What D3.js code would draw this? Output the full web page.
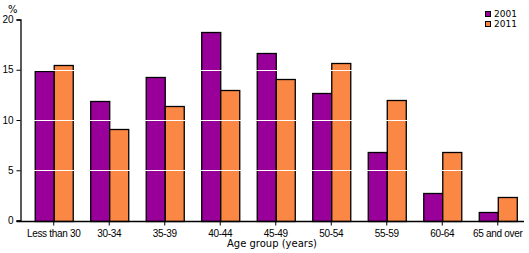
<!DOCTYPE html>
<html>
<head>
<meta charset="utf-8">
<script src="https://cdn.jsdelivr.net/npm/d3@7"></script>
<style>
  body { margin: 0; background: #fff; }
  svg { display: block; font-family: "DejaVu Sans", Verdana, sans-serif; }
  .tick text { font-size: 10px; fill: #000; }
</style>
</head>
<body>
<svg id="chart" width="529" height="253"></svg>
<script>
"use strict";

// Age groups and share of each (per cent)
const categories = ["Less than 30", "30-34", "35-39", "40-44", "45-49", "50-54", "55-59", "60-64", "65 and over"];
const series = ["2001", "2011"];
const values2001 = [14.9, 11.9, 14.25, 18.8, 16.7, 12.65, 6.8, 2.75, 0.85];
const values2011 = [15.5, 9.1, 11.4, 13.0, 14.05, 15.65, 12.0, 6.8, 2.3];
const yTicks = [0, 5, 10, 15, 20];
const colours = ["#990099", "#fa8744"];

const svg = d3.select("#chart");

const y = d3.scaleLinear().domain([0, 20]).range([220.5, 19.5]);
const x = d3.scaleBand().domain(categories).range([26, 525.5]).paddingInner(0.315).paddingOuter(0.157);
const xs = d3.scaleBand().domain(series).range([0, x.bandwidth()]);

// bars
const rows = categories.map((c, i) => ({cat: c, vals: [values2001[i], values2011[i]]}));
const groups = svg.append("g").selectAll("g")
    .data(rows)
    .enter().append("g")
    .attr("transform", d => "translate(" + x(d.cat) + ",0)");

groups.selectAll("rect")
    .data(d => d.vals.map((v, k) => ({s: series[k], v: v, k: k})))
    .enter().append("rect")
    .attr("x", d => xs(d.s) + 0.5)
    .attr("y", d => Math.round(y(d.v)) + 0.5)
    .attr("width", xs.bandwidth())
    .attr("height", d => Math.round(y(0)) - Math.round(y(d.v)))
    .attr("fill", d => colours[d.k])
    .attr("stroke", "#000")
    .attr("stroke-width", 1.3);

// white gridlines drawn over the bars
svg.append("g").selectAll("line")
    .data(yTicks.filter(t => t > 0 && t < 20))
    .enter().append("line")
    .attr("x1", 21).attr("x2", 524)
    .attr("y1", d => Math.round(y(d)) + 0.5)
    .attr("y2", d => Math.round(y(d)) + 0.5)
    .attr("stroke", "#fff")
    .attr("stroke-width", 1.2);

// y axis
const yAxis = svg.append("g")
    .attr("transform", "translate(20.5,0)")
    .call(d3.axisLeft(y).tickValues(yTicks).tickSize(4).tickPadding(3));
yAxis.select(".domain").attr("stroke", "#000").attr("stroke-width", 1.3);
yAxis.selectAll(".tick line").attr("stroke", "#000");

// x axis
const xAxis = svg.append("g")
    .attr("transform", "translate(0," + (Math.round(y(0)) + 0.5) + ")")
    .call(d3.axisBottom(x).tickSize(4).tickSizeOuter(0).tickPadding(4));
xAxis.select(".domain").attr("d", "M16.5,0H524").attr("stroke", "#000").attr("stroke-width", 1.3);
xAxis.selectAll(".tick line").attr("stroke", "#000");
xAxis.selectAll(".tick text").attr("dy", "0.71em").style("letter-spacing", "-0.3px");

svg.append("text")
    .attr("x", 8).attr("y", 13)
    .attr("font-size", 10)
    .text("%");

svg.append("text")
    .attr("x", 272).attr("y", 247)
    .attr("text-anchor", "middle")
    .attr("font-size", 10)
    .text("Age group (years)");

// legend
const legend = svg.append("g").selectAll("g")
    .data(series)
    .enter().append("g")
    .attr("transform", (d, i) => "translate(485," + (11 + i * 10) + ")");
legend.append("rect")
    .attr("x", 0.5).attr("y", 0.5)
    .attr("width", 5).attr("height", 5)
    .attr("fill", (d, i) => colours[i])
    .attr("stroke", "#000");
legend.append("text")
    .attr("x", 9).attr("y", 6)
    .attr("font-size", 9)
    .text(d => d);
</script>
</body>
</html>
